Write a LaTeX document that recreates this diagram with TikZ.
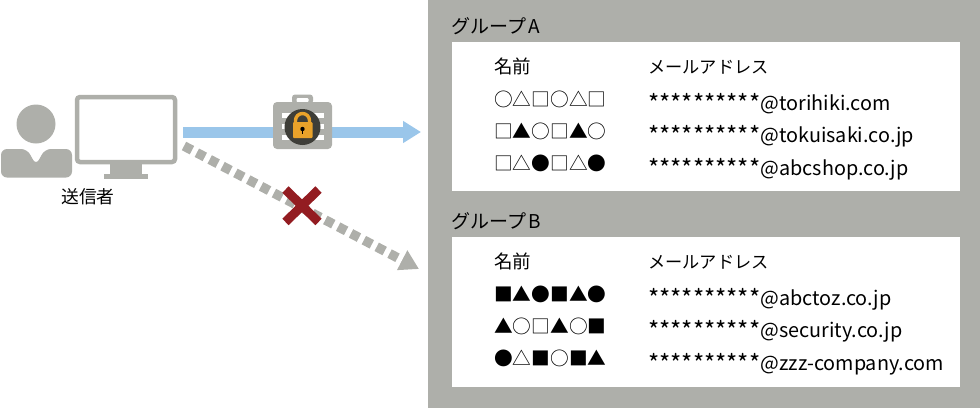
\documentclass[tikz,border=0pt]{standalone}
\usepackage{fontspec}
\usetikzlibrary{arrows.meta}
\setmainfont{Noto Sans CJK JP}
\definecolor{panel}{HTML}{AEAFAA}
\definecolor{sendblue}{HTML}{9AC6EA}
\definecolor{crossred}{HTML}{931C21}
\definecolor{lockdark}{HTML}{3E3E38}
\definecolor{lockgold}{HTML}{E9A22A}
\newcommand{\starrun}{\raisebox{-2pt}{\fontsize{24}{24}\selectfont **********}\kern0.3pt}
\tikzset{
  grouptitle/.style={anchor=base west,inner sep=0,font=\fontsize{19}{23}\selectfont},
  headname/.style={anchor=base west,inner sep=0,font=\fontsize{18.5}{22}\selectfont},
  headtext/.style={anchor=base west,inner sep=0,font=\fontsize{17.2}{22}\selectfont},
  symtext/.style={anchor=base west,inner sep=0,font=\fontsize{18.7}{20}\selectfont},
  mailtext/.style={anchor=base west,inner sep=0,font=\fontsize{19.8}{24}\selectfont},
  whitebox/.style={fill=white,draw=none},
  greyfill/.style={fill=panel,draw=none},
  stripe/.style={fill=white,draw=none}
}
\begin{document}
\begin{tikzpicture}[x=1pt,y=-1pt]
\useasboundingbox (0,0) rectangle (980,408);
% panel
\fill[panel] (428,0) rectangle (980,408);
\fill[whitebox] (452,42) rectangle (960,191);
\fill[whitebox] (452,237) rectangle (960,387);
% person
\fill[greyfill] (36,124) circle (19.5);
\fill[greyfill,rounded corners=6] (1,177.5) -- (1,149) -- (27,149) -- (36,165) -- (45,149) -- (72,149) -- (72,177.5) -- cycle;
% monitor
\node[draw=panel,line width=4.5,rounded corners=3,minimum width=98,minimum height=65,inner sep=0,outer sep=0,anchor=north west] (monitor) at (77,97) {};
\fill[greyfill] (110,164) rectangle (142,175);
\fill[greyfill] (104,174) rectangle (148,178.5);
\node[anchor=center,inner sep=0,font=\fontsize{17.8}{20}\selectfont] (sender) at (88,197) {送信者};
% connectors
\coordinate (blueStart) at (183,132);
\coordinate (blueEnd) at (421,132);
\coordinate (greyStart) at (184,146);
\coordinate (greyEnd) at (419,269);
\draw[sendblue,line width=11,-{Triangle[length=18,width=21]}] (blueStart) -- (blueEnd);
\draw[panel,line width=9.5,dash pattern=on 9 off 5.5,-{Triangle[length=19,width=21]}] (greyStart) -- (greyEnd);
% cross
\draw[crossred,line width=9] (285.5,189.5) -- (318.5,222) (318.5,189.5) -- (285.5,222);
% case
\fill[greyfill,rounded corners=3] (292,104) -- (292,94.5) -- (313,94.5) -- (313,104) -- cycle;
\fill[white,rounded corners=1] (296.5,98) rectangle (308.5,102);
\fill[greyfill,rounded corners=4] (273,102) rectangle (332,149);
\foreach \yy in {113,123.5,134.5}{
  \fill[stripe] (282,\yy) rectangle (324,\yy+5);
}
\fill[lockdark] (302.5,127) circle (18);
\draw[lockgold,line width=3.4] (295.5,123) -- (295.5,120.5) arc[start angle=180,end angle=360,radius=7] -- (309.5,123);
\fill[lockgold,rounded corners=1] (293,122) rectangle (312.5,138);
\fill[black] (302.5,129) circle (2.2);
\fill[black] (301.7,129) rectangle (303.3,134);
% group A
\node[grouptitle] (ga) at (451,33) {グループ\kern2pt A};
\node[headname] (ganame) at (494,73) {名前};
\node[headtext] (gamail) at (648,73) {メールアドレス};
\node[symtext] (ga1) at (494,106) {○△□○△□};
\node[symtext] (ga2) at (494,138) {□▲○□▲○};
\node[symtext] (ga3) at (494,170.5) {□△●□△●};
\node[mailtext] (gm1) at (648,110) {\starrun @torihiki.com};
\node[mailtext] (gm2) at (648,142.5) {\starrun @tokuisaki.co.jp};
\node[mailtext] (gm3) at (648,175) {\starrun @abcshop.co.jp};
% group B
\node[grouptitle] (gb) at (451,228) {グループ\kern2pt B};
\node[headname] (gbname) at (494,268) {名前};
\node[headtext] (gbmail) at (648,268) {メールアドレス};
\node[symtext] (gb1) at (494,301) {■▲●■▲●};
\node[symtext] (gb2) at (494,333) {▲○□▲○■};
\node[symtext] (gb3) at (494,365.5) {●△■○■▲};
\node[mailtext] (hm1) at (648,305) {\starrun @abctoz.co.jp};
\node[mailtext] (hm2) at (648,337.5) {\starrun @security.co.jp};
\node[mailtext] (hm3) at (648,370) {\starrun @zzz-company.com};
\end{tikzpicture}
\end{document}
